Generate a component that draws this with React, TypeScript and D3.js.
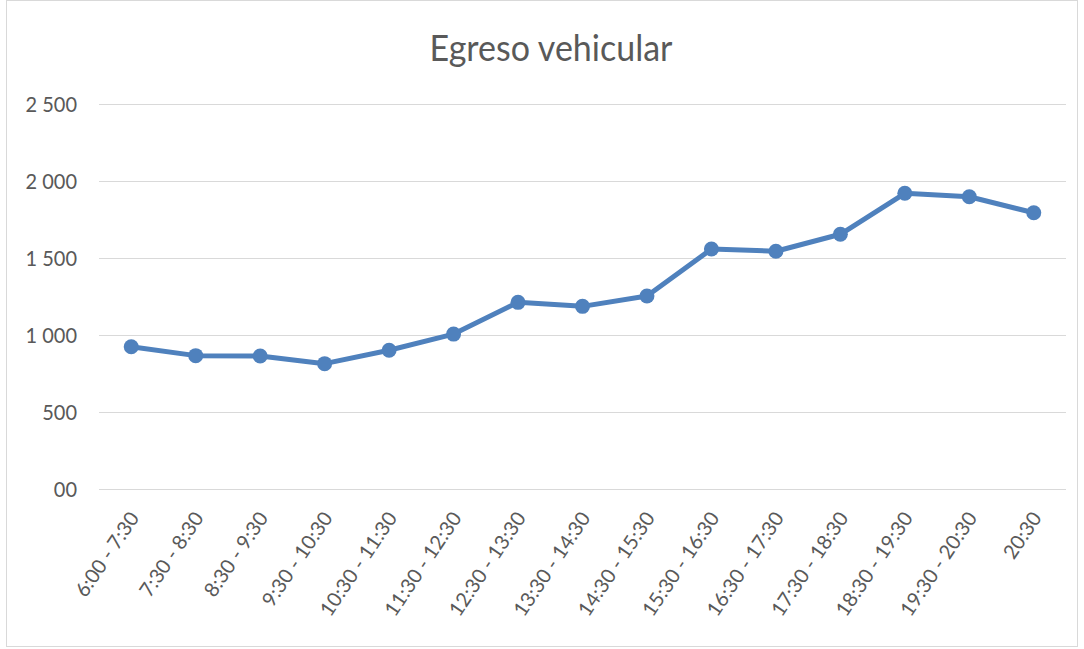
import React, { useEffect, useRef } from "react";
import * as d3 from "d3";

const categories = [
  "6:00 - 7:30", "7:30 - 8:30", "8:30 - 9:30", "9:30 - 10:30", "10:30 - 11:30",
  "11:30 - 12:30", "12:30 - 13:30", "13:30 - 14:30", "14:30 - 15:30", "15:30 - 16:30",
  "16:30 - 17:30", "17:30 - 18:30", "18:30 - 19:30", "19:30 - 20:30", "20:30",
];
const values = [924, 866, 864, 814, 901, 1006, 1212, 1186, 1253, 1558, 1544, 1654, 1920, 1898, 1794];
const yTicks = [0, 500, 1000, 1500, 2000, 2500];
const yTickLabels = ["00", "500", "1 000", "1 500", "2 000", "2 500"];
const title = "Egreso vehicular";

const W = 1084, H = 649;
const FONT = "Lato, 'Open Sans', sans-serif";

export default function App() {
  const ref = useRef<SVGSVGElement>(null);
  useEffect(() => {
    const svg = d3.select(ref.current);
    svg.selectAll("*").remove();
    const left = 99, right = 1066, top = 104, bottom = 489;
    const x = d3.scaleBand<string>().domain(categories).range([left, right]);
    const y = d3.scaleLinear().domain([0, 2500]).range([bottom, top]);

    svg.append("rect").attr("x", 6.5).attr("y", 0.5).attr("width", 1071).attr("height", 646)
      .attr("fill", "#fff").attr("stroke", "#d9d9d9").attr("stroke-width", 1);

    svg.append("text").attr("transform", "translate(551,61) scale(1,1.1)")
      .attr("text-anchor", "middle")
      .attr("font-family", FONT).attr("font-size", 34).attr("fill", "#595959").text(title);

    const g = svg.append("g");
    yTicks.forEach((t, i) => {
      g.append("line").attr("x1", left).attr("x2", right)
        .attr("y1", Math.round(y(t)) + 0.5).attr("y2", Math.round(y(t)) + 0.5)
        .attr("stroke", "#d9d9d9").attr("stroke-width", 1);
      g.append("text").attr("transform", `translate(77,${y(t)}) scale(1,1.1)`).attr("dy", "0.35em")
        .attr("text-anchor", "end").attr("font-family", FONT).attr("font-size", 20)
        .attr("fill", "#595959").text(yTickLabels[i]);
    });

    categories.forEach((c) => {
      const cx = (x(c) as number) + x.bandwidth() / 2;
      g.append("text")
        .attr("transform", `translate(${cx + 3},${514}) rotate(-56)`)
        .attr("text-anchor", "end").attr("dy", "0.35em")
        .attr("font-family", FONT).attr("font-size", 20).attr("fill", "#595959").text(c);
    });

    const line = d3.line<number>()
      .x((_, i) => (x(categories[i]) as number) + x.bandwidth() / 2)
      .y((d) => y(d));
    g.append("path").datum(values).attr("d", line).attr("fill", "none")
      .attr("stroke", "#4f81bd").attr("stroke-width", 5).attr("stroke-linejoin", "round");
    g.selectAll("circle").data(values).enter().append("circle")
      .attr("cx", (_, i) => (x(categories[i]) as number) + x.bandwidth() / 2)
      .attr("cy", (d) => y(d)).attr("r", 7.5).attr("fill", "#4f81bd");
  }, []);
  return (
    <svg ref={ref} width={W} height={H} style={{ position: "absolute", left: 0, top: 0, background: "#fff" }} />
  );
}
